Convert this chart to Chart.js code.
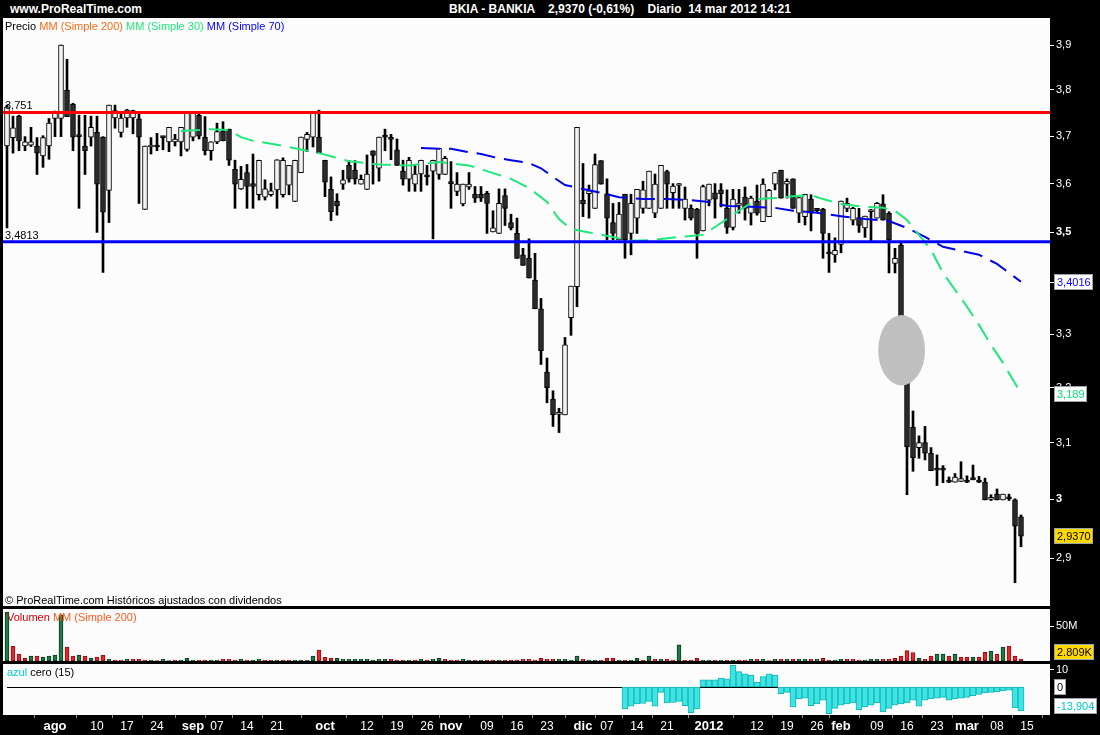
<!DOCTYPE html>
<html>
<head>
<meta charset="utf-8">
<title>BKIA - BANKIA</title>
<script src="https://cdn.jsdelivr.net/npm/chart.js@4.4.1/dist/chart.umd.min.js"></script>
<style>
  body { margin: 0; background: #000; }
  #page { position: relative; width: 1100px; height: 735px; background: #000; overflow: hidden;
          font-family: Arial, "Liberation Sans", sans-serif; }
  canvas { position: absolute; left: 0; }
  .hdr { position: absolute; top: 2px; color: #fff; font-weight: bold; font-size: 12px; line-height: 14px; white-space: pre; }
  .txt { position: absolute; font-size: 11px; line-height: 13px; white-space: pre; color: #000; z-index: 2; }
</style>
</head>
<body>
<div id="page">
  <div class="hdr" style="left:10px">www.ProRealTime.com</div>
  <div class="hdr" style="left:449px">BKIA - BANKIA    2,9370 (-0,61%)    Diario  14 mar 2012 14:21</div>

  <canvas id="priceChart" width="1100" height="590" style="top:17px"></canvas>
  <canvas id="volChart" width="1100" height="55" style="top:607px"></canvas>
  <canvas id="azulChart" width="1100" height="73" style="top:662px"></canvas>

  <div class="txt" style="left:5px;top:20px">Precio <span style="color:#ff6a13">MM (Simple 200)</span> <span style="color:#1ee87a">MM (Simple 30)</span> <span style="color:#0000ff">MM (Simple 70)</span></div>
  <div class="txt" style="left:5px;top:594px">© ProRealTime.com Históricos ajustados con dividendos</div>
  <div class="txt" style="left:7px;top:611px"><span style="color:#d40000">Volumen</span> <span style="color:#ff5a1e">MM (Simple 200)</span></div>
  <div class="txt" style="left:7px;top:666px"><span style="color:#00cccc">azul</span> cero (15)</div>
</div>

<script>
// cotizaciones diarias (20 jul 2011 - 14 mar 2012)
const opens = [3.679,3.697,3.743,3.679,3.681,3.679,3.658,3.679,3.738,3.738,
  3.800,3.769,3.700,3.679,3.698,3.708,3.698,3.586,3.739,3.708,
  3.739,3.739,3.737,3.547,3.677,3.679,3.699,3.688,3.688,3.688,
  3.672,3.698,3.745,3.698,3.669,3.688,3.711,3.715,3.630,3.589,
  3.623,3.600,3.577,3.572,3.577,3.587,3.577,3.597,3.563,3.623,
  3.693,3.698,3.698,3.649,3.588,3.564,3.599,3.638,3.628,3.599,
  3.588,3.669,3.632,3.699,3.694,3.671,3.626,3.609,3.599,3.620,
  3.615,3.626,3.619,3.619,3.601,3.584,3.558,3.593,3.578,3.578,
  3.580,3.501,3.498,3.575,3.520,3.498,3.455,3.448,3.405,3.349,
  3.229,3.179,3.151,3.150,3.332,3.392,3.566,3.579,3.549,3.648,
  3.579,3.520,3.485,3.578,3.498,3.529,3.549,3.549,3.539,3.549,
  3.625,3.581,3.596,3.549,3.549,3.547,3.503,3.566,3.581,3.587,
  3.549,3.510,3.555,3.572,3.539,3.564,3.522,3.532,3.599,3.628,
  3.599,3.610,3.539,3.532,3.568,3.549,3.547,3.458,3.455,3.476,
  3.549,3.525,3.530,3.509,3.542,3.529,3.558,3.539,3.438,3.474,
  3.300,3.128,3.091,3.100,3.081,3.052,3.052,3.031,3.030,3.031,
  3.031,3.038,3.031,3.030,3.000,3.009,2.999,3.002,2.999,2.970];
const highs = [3.767,3.743,3.745,3.699,3.719,3.697,3.701,3.738,3.754,3.900,
  3.868,3.771,3.745,3.745,3.743,3.743,3.699,3.767,3.767,3.749,
  3.758,3.756,3.749,3.679,3.697,3.706,3.699,3.719,3.704,3.719,
  3.749,3.749,3.749,3.742,3.688,3.728,3.731,3.715,3.649,3.636,
  3.640,3.662,3.649,3.608,3.601,3.650,3.654,3.638,3.649,3.698,
  3.708,3.749,3.756,3.649,3.614,3.579,3.628,3.648,3.648,3.618,
  3.660,3.669,3.698,3.715,3.704,3.694,3.649,3.655,3.638,3.649,
  3.638,3.649,3.674,3.657,3.646,3.623,3.599,3.623,3.594,3.594,
  3.584,3.544,3.589,3.589,3.537,3.529,3.468,3.487,3.458,3.369,
  3.255,3.194,3.162,3.294,3.393,3.719,3.642,3.597,3.662,3.648,
  3.610,3.559,3.561,3.578,3.578,3.588,3.605,3.626,3.620,3.638,
  3.628,3.600,3.600,3.593,3.556,3.549,3.597,3.599,3.600,3.600,
  3.587,3.588,3.588,3.593,3.574,3.597,3.610,3.588,3.623,3.628,
  3.610,3.610,3.571,3.578,3.577,3.549,3.549,3.498,3.489,3.564,
  3.570,3.551,3.549,3.533,3.547,3.561,3.577,3.542,3.468,3.478,
  3.300,3.157,3.112,3.129,3.091,3.078,3.059,3.039,3.045,3.066,
  3.041,3.060,3.040,3.037,3.008,3.018,3.009,3.009,3.001,2.973];
const lows = [3.509,3.664,3.669,3.669,3.678,3.619,3.634,3.651,3.699,3.699,
  3.742,3.669,3.549,3.619,3.679,3.500,3.420,3.520,3.717,3.698,
  3.719,3.705,3.559,3.547,3.662,3.669,3.671,3.667,3.679,3.658,
  3.668,3.690,3.694,3.660,3.649,3.684,3.690,3.638,3.549,3.588,
  3.549,3.549,3.566,3.566,3.574,3.549,3.572,3.577,3.563,3.623,
  3.667,3.677,3.664,3.573,3.524,3.535,3.588,3.603,3.599,3.599,
  3.588,3.599,3.605,3.669,3.650,3.638,3.597,3.584,3.584,3.584,
  3.597,3.487,3.609,3.619,3.549,3.575,3.554,3.588,3.561,3.563,
  3.498,3.501,3.498,3.514,3.505,3.448,3.434,3.409,3.349,3.243,
  3.172,3.129,3.118,3.150,3.298,3.353,3.532,3.529,3.549,3.599,
  3.485,3.485,3.485,3.448,3.455,3.498,3.539,3.549,3.530,3.549,
  3.549,3.549,3.549,3.525,3.525,3.448,3.503,3.554,3.529,3.552,
  3.498,3.505,3.539,3.525,3.515,3.535,3.522,3.532,3.587,3.570,
  3.570,3.549,3.520,3.515,3.503,3.540,3.448,3.420,3.440,3.459,
  3.542,3.515,3.500,3.490,3.481,3.529,3.525,3.419,3.419,3.300,
  3.008,3.049,3.072,3.069,3.050,3.024,3.029,3.029,3.030,3.031,
  3.029,3.034,3.029,2.999,2.998,2.999,2.999,2.998,2.859,2.919];
const closes = [3.763,3.718,3.690,3.688,3.688,3.664,3.697,3.728,3.749,3.900,
  3.742,3.698,3.699,3.669,3.719,3.599,3.541,3.767,3.755,3.739,
  3.756,3.755,3.698,3.679,3.679,3.677,3.697,3.719,3.694,3.719,
  3.749,3.749,3.700,3.669,3.688,3.710,3.690,3.649,3.599,3.609,
  3.594,3.594,3.649,3.589,3.585,3.650,3.649,3.638,3.649,3.698,
  3.704,3.749,3.664,3.603,3.542,3.554,3.608,3.609,3.609,3.609,
  3.620,3.659,3.698,3.698,3.693,3.638,3.609,3.649,3.620,3.649,
  3.614,3.649,3.674,3.653,3.600,3.599,3.599,3.599,3.570,3.570,
  3.559,3.509,3.559,3.549,3.509,3.448,3.434,3.409,3.349,3.269,
  3.200,3.150,3.152,3.280,3.393,3.719,3.558,3.585,3.640,3.599,
  3.529,3.498,3.537,3.485,3.559,3.588,3.587,3.626,3.599,3.638,
  3.599,3.595,3.597,3.568,3.529,3.498,3.594,3.599,3.568,3.579,
  3.510,3.568,3.560,3.549,3.570,3.539,3.599,3.586,3.623,3.570,
  3.605,3.549,3.571,3.578,3.539,3.544,3.498,3.457,3.464,3.564,
  3.559,3.549,3.514,3.533,3.543,3.559,3.525,3.485,3.448,3.310,
  3.092,3.073,3.100,3.081,3.050,3.051,3.051,3.030,3.039,3.036,
  3.030,3.034,3.030,2.999,3.000,2.999,3.009,3.001,2.954,2.937];

// volumen en millones de titulos
const volumes = [70,21,10,3.8,7,7,5.7,7,8.6,66,
  20,7,8.6,7,4.3,5.7,8.6,2.4,1.4,1.4,
  2.4,2.4,2.4,1.4,1.4,0.6,2.4,0.6,1.4,1.4,
  3.8,1.4,1.4,1.4,1.4,1.4,2.4,2.4,1.4,2.4,
  1.4,1.4,2.4,1.4,1.4,1.4,1.4,1.4,1.4,1.4,
  1.4,7,15.7,5.2,3.8,3.8,2.4,2.4,2.4,2.4,
  2.4,1.4,2.4,2.4,2.4,1.4,1.4,1.4,1.4,2.4,
  1.4,2.4,3.8,2.4,1.4,1.4,2.4,1.4,1.4,1.4,
  1.4,1.4,1.4,1.4,1.4,1.4,2.4,2.4,1.4,3.8,
  2.4,2.4,2.4,2.4,1.4,7,2.4,1.4,1.4,1.4,
  3.8,3.8,1.4,1.4,1.4,3.8,1.4,7,2.4,2.4,
  2.4,1.4,23,1.4,1.4,3.8,1.4,1.4,1.4,1.4,
  1.4,1.4,1.4,1.4,2.4,2.4,2.4,0.6,2.4,2.4,
  2.4,2.4,2.4,2.4,2.4,2.4,3.8,1.4,1.4,2.4,
  2.4,2.4,1.4,1.4,2.4,2.4,2.4,2.4,3.8,7,
  14.8,12,3.8,2.4,7,10,10,7,10,5.7,
  5.7,5.7,5.7,12.4,14.3,10,20,21.4,7,2.809];

// indicador "azul cero (15)": empieza en la vela 103
const azulFirst = 103;
const azulValues = [-12.8,-11.2,-9.9,-9.5,-8.4,-11.2,-3.1,-9.3,-8.9,-8.4,-10.9,-14.9,-12.8,
  4.1,4.1,4.1,5.2,4.8,12.8,8.9,7.7,7.0,2.7,6.0,7.7,7.0,
  -3.9,-3.1,-11.6,-7.0,-6.5,-10.9,-9.9,-7.7,-15.5,-12.4,-10.5,-9.9,-9.3,-13.2,-11.6,
  -10.5,-9.3,-14.5,-12.4,-10.5,-9.9,-9.3,-7.7,-11.2,-7.7,-7.0,-6.5,-6.0,-7.7,-7.0,
  -6.5,-6.0,-5.0,-4.3,-3.5,-3.1,-2.7,-2.3,-1.9,-12.1,-13.904];

// medias moviles (indice de vela, valor)
const ma30Idx = [29,32,34,37,39,41,44,47,52,57,62,67,72,77,80,84,87,90,92,94,97,100,104,108,112,116,
  119,122,125,128,131,134,136,139,143,146,148,150,152,154,156,158,160,162,164,166,168,169];
const ma30Val = [3.711,3.713,3.715,3.713,3.698,3.690,3.684,3.677,3.664,3.647,3.640,3.638,3.645,3.638,
  3.626,3.610,3.591,3.562,3.527,3.507,3.500,3.493,3.483,3.485,3.491,3.495,3.519,3.544,3.568,3.570,
  3.574,3.576,3.568,3.558,3.552,3.550,3.544,3.525,3.495,3.465,3.419,3.386,3.353,3.318,3.280,3.246,
  3.208,3.189];
const ma70Idx = [69,72,74,77,79,82,84,87,89,91,93,96,99,102,106,110,114,117,120,124,128,131,135,139,
  143,147,150,153,156,159,162,165,169];
const ma70Val = [3.675,3.673,3.673,3.666,3.662,3.653,3.649,3.643,3.632,3.614,3.597,3.589,3.581,3.572,
  3.568,3.568,3.566,3.562,3.554,3.552,3.550,3.544,3.540,3.533,3.527,3.523,3.509,3.491,3.471,3.463,
  3.455,3.437,3.4016];

// niveles horizontales
const levels = [3.751, 3.4813];
const levelText = ['3,751', '3,4813'];

// eje de precios y eje de fechas
const priceTicks = [2.9, 3.0, 3.1, 3.2, 3.3, 3.4, 3.5, 3.6, 3.7, 3.8, 3.9];
const dateTickIdx = [8,15,20,25,31,35,40,45,53,60,65,70,74,80,85,90,96,100,105,110,117,125,130,135,139,145,150,155,160,165,170];
const dateTickText = ['ago','10','17','24','sep','07','14','21','oct','12','19','26','nov','09','16','23',
  'dic','07','14','21','2012','12','19','26','feb','09','16','23','mar','08','15'];
const boldDates = ['ago','sep','oct','nov','dic','2012','feb','mar'];

// elipse gris dibujada sobre el grafico
const markIdx = 149.1, markHalfBars = 3.9, markLo = 3.204, markHi = 3.337;

const FONT = 'Arial, "Liberation Sans", sans-serif';
const X_MIN = -0.6667, X_MAX = 173.833;
const P_MIN = 2.8208, P_MAX = 3.9613;

Chart.defaults.font.family = FONT;
Chart.defaults.animation = false;
Chart.defaults.plugins.legend.display = false;
Chart.defaults.plugins.tooltip.enabled = false;

// fondo blanco del panel
const panelBg = {
  id: 'panelBg',
  beforeDraw(chart) {
    const { ctx, chartArea: a } = chart;
    ctx.save();
    ctx.fillStyle = '#fcfcfc';
    ctx.fillRect(a.left, a.top, a.right - a.left, a.bottom - a.top);
    ctx.restore();
  }
};

// cajitas con el ultimo valor en el eje derecho
function makeBoxes(items) {
  return {
    id: 'valueBoxes',
    afterDraw(chart) {
      const { ctx, chartArea: a } = chart;
      const y = chart.scales.y;
      items.forEach(it => {
        let py = Math.min(y.getPixelForValue(it.value), a.bottom - 9);
        ctx.save();
        ctx.font = '11px ' + FONT;
        const w = Math.ceil(ctx.measureText(it.text).width) + 5;
        const bx = a.right + 4, by = Math.round(py) - 8;
        ctx.fillStyle = it.bg;
        ctx.fillRect(bx, by, w, 16);
        ctx.strokeStyle = '#9aa4ae';
        ctx.lineWidth = 1;
        ctx.strokeRect(bx + 0.5, by + 0.5, w - 1, 15);
        ctx.fillStyle = it.color;
        ctx.textBaseline = 'middle';
        ctx.fillText(it.text, bx + 3, by + 8.5);
        ctx.restore();
      });
    }
  };
}

// elipse y etiquetas de los niveles
const priceExtras = {
  id: 'priceExtras',
  afterDatasetsDraw(chart) {
    const { ctx, scales: { x, y }, chartArea: a } = chart;
    const cx = x.getPixelForValue(markIdx);
    const rx = x.getPixelForValue(markIdx + markHalfBars) - cx;
    const top = y.getPixelForValue(markHi), bot = y.getPixelForValue(markLo);
    ctx.save();
    ctx.fillStyle = '#c0c0c0';
    ctx.beginPath();
    ctx.ellipse(cx, (top + bot) / 2, rx, (bot - top) / 2, 0, 0, Math.PI * 2);
    ctx.fill();
    ctx.font = '11px ' + FONT;
    ctx.fillStyle = '#000';
    ctx.textBaseline = 'alphabetic';
    levels.forEach((v, i) => ctx.fillText(levelText[i], a.left + 2, y.getPixelForValue(v) - 3));
    ctx.restore();
  }
};

// linea del cero en el indicador
const zeroLine = {
  id: 'zeroLine',
  beforeDatasetsDraw(chart) {
    const { ctx, scales: { x, y } } = chart;
    const py = Math.round(y.getPixelForValue(0)) + 0.5;
    ctx.save();
    ctx.strokeStyle = '#000';
    ctx.lineWidth = 1;
    ctx.beginPath();
    ctx.moveTo(x.getPixelForValue(0), py);
    ctx.lineTo(x.getPixelForValue(closes.length - 1), py);
    ctx.stroke();
    ctx.restore();
  }
};

// quita el margen que Chart.js reserva para las etiquetas de los extremos
const noEdgePad = s => { s.paddingTop = 0; s.paddingBottom = 0; s.paddingLeft = 0; s.paddingRight = 0; };
const fmtPrice = v => Number.isInteger(v) ? String(v) : v.toFixed(1).replace('.', ',');
const hiddenX = { type: 'linear', min: X_MIN, max: X_MAX, offset: false, display: false };
const axisGrid = { drawOnChartArea: false, drawTicks: true, tickLength: 4, tickColor: '#fff', color: '#fff' };
const rightFit = s => { s.width = 50; noEdgePad(s); };

// ---------- precio ----------
const isUp = closes.map((c, i) => c >= opens[i]);
const bodies = closes.map((c, i) => ({ x: i, y: [opens[i], c] }));
const wicks = closes.map((c, i) => ({ x: i, y: [lows[i], highs[i]] }));
const levelLine = v => [{ x: X_MIN, y: v }, { x: X_MAX, y: v }];

new Chart(document.getElementById('priceChart'), {
  type: 'bar',
  data: {
    datasets: [
      { type: 'line', data: levelLine(levels[0]), borderColor: '#ff0000', borderWidth: 3, pointRadius: 0, order: 0 },
      { type: 'line', data: levelLine(levels[1]), borderColor: '#0000ff', borderWidth: 3, pointRadius: 0, order: 0 },
      { type: 'line', data: ma30Idx.map((x, i) => ({ x, y: ma30Val[i] })), borderColor: '#1ee87a',
        borderWidth: 2, borderDash: [19, 9], pointRadius: 0, order: 1 },
      { type: 'line', data: ma70Idx.map((x, i) => ({ x, y: ma70Val[i] })), borderColor: '#0000e6',
        borderWidth: 2, borderDash: [19, 9], pointRadius: 0, order: 1 },
      { data: bodies, backgroundColor: isUp.map(u => u ? '#f2f2f2' : '#2a2a2a'), borderColor: '#000',
        borderWidth: 1, borderSkipped: false, barThickness: 5, minBarLength: 2, grouped: false, order: 2 },
      { data: wicks, backgroundColor: '#000', borderWidth: 0, barThickness: 2, minBarLength: 1,
        grouped: false, order: 3 }
    ]
  },
  options: {
    responsive: false,
    devicePixelRatio: 1,
    layout: { padding: { left: 3, top: 1, bottom: 1, right: 0 }, autoPadding: false },
    scales: {
      x: hiddenX,
      y: {
        type: 'logarithmic', position: 'right', min: P_MIN, max: P_MAX,
        afterBuildTicks: s => { s.ticks = priceTicks.map(v => ({ value: v })); },
        afterFit: rightFit,
        ticks: {
          autoSkip: false, color: '#fff', padding: 2, callback: v => fmtPrice(v),
          font: ctx => ({ size: 11, family: FONT,
            weight: ctx.tick && (ctx.tick.value === 3 || ctx.tick.value === 3.5) ? 'bold' : 'normal' })
        },
        grid: axisGrid,
        border: { display: false }
      }
    }
  },
  plugins: [panelBg, priceExtras, makeBoxes([
    { value: 3.4016, text: '3,4016', color: '#0000ff', bg: '#ffffff' },
    { value: 3.189, text: '3,189', color: '#00e070', bg: '#ffffff' },
    { value: 2.937, text: '2,9370', color: '#000', bg: '#ffd800' }
  ])]
});

// ---------- volumen ----------
const volUp = closes.map((c, i) => i === 0 || c >= closes[i - 1]);
new Chart(document.getElementById('volChart'), {
  type: 'bar',
  data: {
    datasets: [{
      data: volumes.map((v, i) => ({ x: i, y: v })),
      backgroundColor: volUp.map(u => u ? '#1d7b45' : '#e3272b'),
      borderColor: volUp.map(u => u ? '#0b3d20' : '#8a1010'),
      borderWidth: 1, borderSkipped: false, barThickness: 4, grouped: false
    }]
  },
  options: {
    responsive: false,
    devicePixelRatio: 1,
    layout: { padding: { left: 3, top: 2, bottom: 1, right: 0 }, autoPadding: false },
    scales: {
      x: hiddenX,
      y: {
        position: 'right', min: 0, max: 74.3,
        afterBuildTicks: s => { s.ticks = [{ value: 50 }]; },
        afterFit: rightFit,
        ticks: { color: '#fff', padding: 2, font: { size: 11 }, callback: v => v + 'M' },
        grid: axisGrid,
        border: { display: false }
      }
    }
  },
  plugins: [panelBg, makeBoxes([{ value: volumes[volumes.length - 1], text: '2.809K', color: '#000', bg: '#ffd800' }])]
});

// ---------- indicador azul ----------
new Chart(document.getElementById('azulChart'), {
  type: 'bar',
  data: {
    datasets: [{
      data: azulValues.map((v, i) => ({ x: azulFirst + i, y: v })),
      backgroundColor: '#3ee3e3',
      borderColor: '#17b5b5',
      borderWidth: 1, borderSkipped: false, barThickness: 6, grouped: false
    }]
  },
  options: {
    responsive: false,
    devicePixelRatio: 1,
    layout: { padding: { left: 3, top: 2, bottom: 0, right: 0 }, autoPadding: false },
    scales: {
      x: {
        type: 'linear', min: X_MIN, max: X_MAX, offset: false,
        afterBuildTicks: s => { s.ticks = dateTickIdx.map(v => ({ value: v })); },
        afterFit: s => { s.height = 20; noEdgePad(s); },
        ticks: {
          autoSkip: false, maxRotation: 0, color: '#fff', padding: 1,
          callback: (v, i) => dateTickText[i],
          font: ctx => boldDates.includes(dateTickText[ctx.index])
            ? { size: 13, weight: 'bold', family: FONT } : { size: 12, family: FONT }
        },
        grid: { drawOnChartArea: false, drawTicks: true, tickLength: 3, tickColor: '#8a8a8a' },
        border: { display: false }
      },
      y: {
        position: 'right', min: -16.28, max: 13.37,
        afterBuildTicks: s => { s.ticks = [{ value: 10 }]; },
        afterFit: rightFit,
        ticks: { color: '#fff', padding: 2, font: { size: 11 } },
        grid: axisGrid,
        border: { display: false }
      }
    }
  },
  plugins: [panelBg, zeroLine, makeBoxes([
    { value: 0, text: '0', color: '#000', bg: '#ffffff' },
    { value: azulValues[azulValues.length - 1], text: '-13,904', color: '#00c8c8', bg: '#ffffff' }
  ])]
});
</script>
</body>
</html>
